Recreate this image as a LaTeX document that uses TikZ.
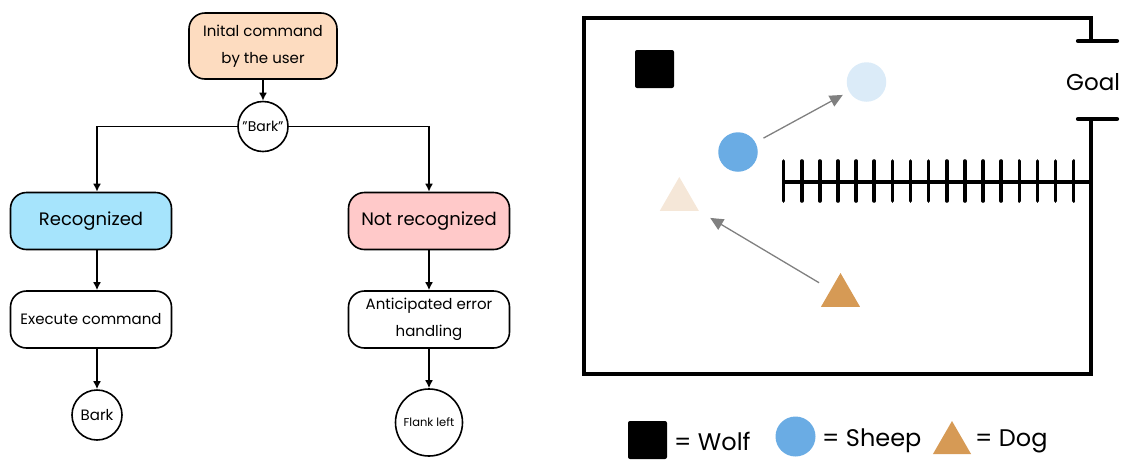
\documentclass[tikz,border=0pt]{standalone}
\usepackage{fontspec}
\setmainfont{Poppins}
\usetikzlibrary{arrows.meta,shapes.geometric}
\definecolor{peach}{HTML}{FDDCC0}
\definecolor{recblue}{HTML}{A6E4FC}
\definecolor{notpink}{HTML}{FFC9C9}
\definecolor{sheepblue}{HTML}{6AACE4}
\definecolor{ghostblue}{HTML}{DBEBF8}
\definecolor{dogbrown}{HTML}{D69A55}
\definecolor{ghostdog}{HTML}{F5E7D8}
\definecolor{movegray}{HTML}{808080}
\begin{document}
\begin{tikzpicture}[x=1pt,y=-1pt,
  box/.style={draw,line width=1.6pt,rounded corners=16pt,align=center,inner sep=0pt,
    minimum width=161pt,minimum height=57pt},
  circ/.style={draw,circle,line width=1.6pt,inner sep=0pt,align=center},
  flow/.style={line width=1.6pt,-{Latex[length=8pt,width=8pt]}},
  wall/.style={line width=4.2pt},
  move/.style={draw=movegray,line width=1.3pt,-{Triangle[length=13pt,width=12pt]}},
  tri/.style={regular polygon,regular polygon sides=3,minimum size=45pt,inner sep=0pt},
  legtext/.style={anchor=west,font=\fontsize{24}{28}\selectfont,inner sep=0pt},
]
\useasboundingbox (0,0) rectangle (1125,459);

% ---------- flowchart ----------
\node[box,minimum width=148pt,minimum height=66pt,fill=peach,font=\fontsize{15}{27}\selectfont] (init) at (263,46) {Inital command\\by the user};
\node[circ,minimum size=50pt,font=\fontsize{14}{16}\selectfont] (bark) at (263,126.5) {\symbol{34}Bark\symbol{34}};
\node[box,fill=recblue,font=\fontsize{18}{22}\selectfont] (rec) at (91,221) {Recognized};
\node[box,fill=notpink,font=\fontsize{18}{22}\selectfont] (notrec) at (429,221) {Not recognized};
\node[box,font=\fontsize{15}{18}\selectfont] (exec) at (91,319.5) {Execute command};
\node[box,font=\fontsize{15}{27}\selectfont] (err) at (429,319.5) {Anticipated error\\handling};
\node[circ,minimum size=50pt,font=\fontsize{15}{18}\selectfont] (barkout) at (97,415) {Bark};
\node[circ,minimum size=67pt,font=\fontsize{11.5}{14}\selectfont] (flank) at (429,422.5) {Flank left};

\draw[flow] (init) -- (bark);
\draw[flow] (bark.west) -| (rec.north -| barkout.north);
\draw[flow] (bark.east) -| (notrec.north);
\draw[flow] (rec.south -| barkout.north) -- (exec.north -| barkout.north);
\draw[flow] (exec.south -| barkout.north) -- (barkout.north);
\draw[flow] (notrec) -- (err);
\draw[flow] (err) -- (flank);

% ---------- field ----------
\draw[wall,line join=miter] (1091,41) -- (1091,18) -- (584,18) -- (584,374) -- (1091,374) -- (1091,119);
\draw[wall,line cap=round] (1078,41) -- (1117,41);
\draw[wall,line cap=round] (1078,119) -- (1117,119);
\node[anchor=west,inner sep=0pt,font=\fontsize{23}{26}\selectfont] (goal) at (1066,82) {Goal};

% fence
\draw[wall] (783.6,182) -- (1091,182);
\foreach \i in {0,...,16}{
  \draw[line width=3.6pt,line cap=round] (783.6+18.13*\i,161) -- (783.6+18.13*\i,201);
}

% wolf
\node[fill=black,rounded corners=2pt,minimum width=39pt,minimum height=38pt,inner sep=0pt] (wolf) at (654.5,69) {};
% sheep
\node[circle,fill=ghostblue,minimum size=39.5pt,inner sep=0pt] (gsheep) at (866.5,82) {};
\node[circle,fill=sheepblue,minimum size=39.5pt,inner sep=0pt] (sheep) at (738,152) {};
\draw[move,shorten <=29pt,shorten >=27pt] (sheep.center) -- (gsheep.center);
% dog
\node[tri,fill=ghostdog] (gdog) at (679.3,199.5) {};
\node[tri,fill=dogbrown] (dog) at (840.5,295.5) {};
\draw[move,shorten <=25pt,shorten >=36pt] (dog.center) -- (gdog.center);

% ---------- legend ----------
\node[fill=black,rounded corners=2pt,minimum width=39pt,minimum height=38pt,inner sep=0pt] (lwolf) at (647.5,440) {};
\node[legtext] (twolf) at (674,441) {= Wolf};
\node[circle,fill=sheepblue,minimum size=40pt,inner sep=0pt] (lsheep) at (795.5,436.5) {};
\node[legtext] (tsheep) at (822,441) {= Sheep};
\node[tri,fill=dogbrown,minimum size=44pt] (ldog) at (952,443) {};
\node[legtext] (tdog) at (975,441) {= Dog};
\end{tikzpicture}
\end{document}
